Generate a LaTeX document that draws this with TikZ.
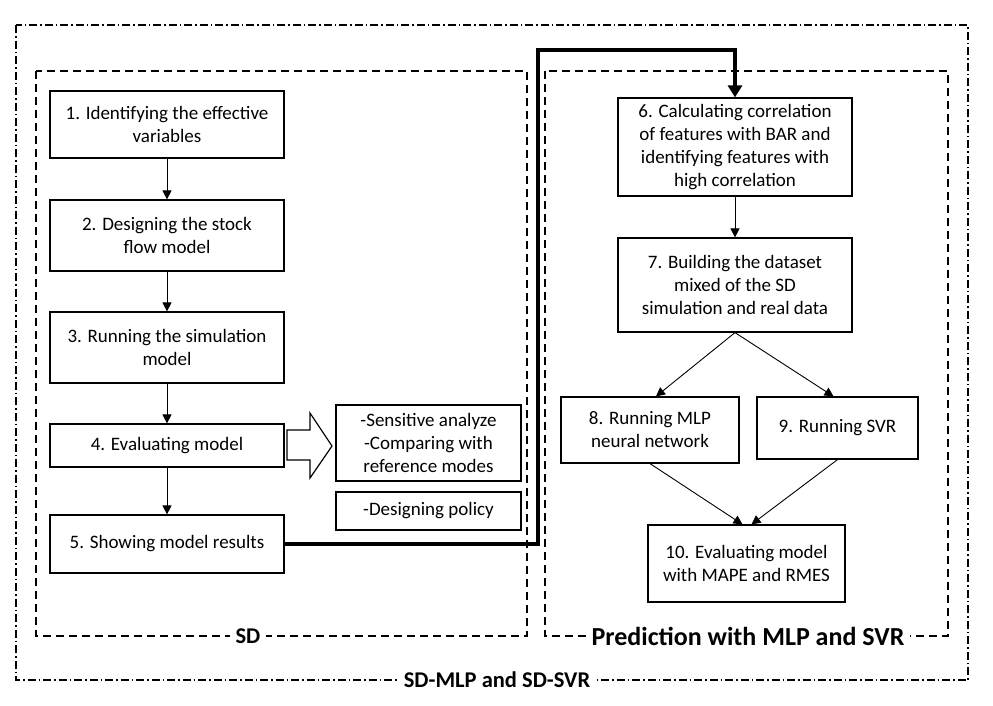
\documentclass[tikz,border=0pt]{standalone}
\usepackage{fontspec}
\setmainfont{Carlito}
\usetikzlibrary{arrows.meta,calc}
\begin{document}
\begin{tikzpicture}[x=1pt,y=-1pt,
  box/.style={draw, line width=1.2pt, align=center, inner sep=2pt,
    font=\fontsize{19}{23}\selectfont},
  thin/.style={line width=0.9pt, -{Triangle[length=9pt,width=9pt]}},
  outerframe/.style={line width=1.2pt, dash pattern=on 8pt off 3pt on 1.5pt off 3pt},
  innerframe/.style={line width=1.2pt, dash pattern=on 8pt off 5pt},
  lab/.style={fill=white, inner xsep=6pt, inner ysep=1pt, font=\bfseries\fontsize{22.5}{27}\selectfont}]
\useasboundingbox (0,0) rectangle (993,705);
% frames
\draw[outerframe] (16,25) rectangle (968,680);
\draw[innerframe] (36,71) rectangle (527,636);
\draw[innerframe] (545,71) rectangle (948,636);
\node[lab] (lout) at (497,680) {SD-MLP and SD-SVR};
\node[lab] (lsd) at (248,636) {SD};
\node[lab, font=\bfseries\fontsize{26}{31}\selectfont] (lpred) at (748,636) {Prediction with MLP and SVR};
% left column
\node[box, minimum width=234pt, minimum height=67pt] (b1) at (167,124.5) {1. Identifying the effective\\variables};
\node[box, minimum width=234pt, minimum height=71pt] (b2) at (167,235.5) {2. Designing the stock\\flow model};
\node[box, minimum width=234pt, minimum height=71pt] (b3) at (167,347.5) {3. Running the simulation\\model};
\node[box, minimum width=234pt, minimum height=43pt] (b4) at (167,445.5) {4. Evaluating model};
\node[box, minimum width=234pt, minimum height=58pt] (b5) at (167,544) {5. Showing model results};
\node[box, minimum width=185pt, minimum height=76pt] (bs) at (428.5,443) {-Sensitive analyze\\-Comparing with\\reference modes};
\node[box, minimum width=185pt, minimum height=38pt] (bp) at (428.5,511) {-Designing policy};
% right column
\node[box, minimum width=234pt, minimum height=98pt] (b6) at (735,147) {6. Calculating correlation\\of features with BAR and\\identifying features with\\high correlation};
\node[box, minimum width=234pt, minimum height=94pt] (b7) at (735,285) {7. Building the dataset\\mixed of the SD\\simulation and real data};
\node[box, minimum width=178pt, minimum height=66pt] (b8) at (650,430) {8. Running MLP\\neural network};
\node[box, minimum width=161pt, minimum height=62pt] (b9) at (837.5,428) {9. Running SVR};
\node[box, minimum width=197pt, minimum height=77pt] (b10) at (746.5,563.5) {10. Evaluating model\\with MAPE and RMES};
% arrows
\draw[thin] (b1) -- (b2);
\draw[thin] (b2) -- (b3);
\draw[thin] (b3) -- (b4);
\draw[thin] (b4) -- (b5);
\draw[thin] (b6) -- (b7);
\draw[thin] (b7.south) -- ($(b8.north)+(6,0)$);
\draw[thin] (b7.south) -- ($(b9.north)+(-4,0)$);
\draw[thin] (b8.south) -- ($(b10.north)+(-4,0)$);
\draw[thin] (b9.south) -- ($(b10.north)+(5,0)$);
% block arrow
\draw[line width=1.2pt, line join=miter] (287,430) -- (310,430) -- (310,413) -- (332,446) -- (310,478) -- (310,460) -- (287,460) -- cycle;
% thick connector
\coordinate (t1) at (538,50);
\draw[line width=3.3pt, -{Triangle[length=12pt,width=14pt]}] (b5.east) -| (t1) -| (b6.north);
\end{tikzpicture}
\end{document}
